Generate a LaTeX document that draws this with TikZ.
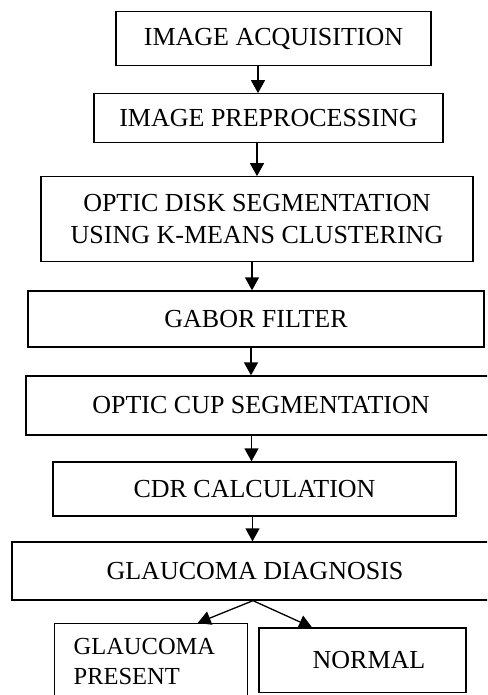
\documentclass[tikz,border=0pt]{standalone}
\usepackage{fontspec}
\setmainfont{Liberation Serif}
\usetikzlibrary{arrows.meta}

\begin{document}
\begin{tikzpicture}[x=1pt, y=-1pt,
	box/.style={draw, line width=1.3pt, inner sep=0pt, align=center, font=\fontsize{26}{32}\selectfont},
	arr/.style={line width=1.3pt, -{Triangle[length=13pt,width=14pt]}}]
	\useasboundingbox (0,0) rectangle (487,695);
	\clip (0,0) rectangle (487,695);

	\node[box, minimum width=315pt, minimum height=54pt] (acq) at (273.5,38.7){IMAGE ACQUISITION};
	\node[box, minimum width=349pt, minimum height=49pt] (pre) at (268.5,118.3){IMAGE PREPROCESSING};
	\node[box, minimum width=432pt, minimum height=85pt] (disk) at (257,219.3){OPTIC DISK SEGMENTATION\\USING K-MEANS CLUSTERING};
	\node[box, minimum width=456pt, minimum height=56pt] (gabor) at (256,319){GABOR FILTER};
	\node[box, minimum width=470pt, minimum height=59pt] (cup) at (261,405.5){OPTIC CUP SEGMENTATION};
	\node[box, minimum width=403pt, minimum height=54pt] (cdr) at (254.5,489){CDR CALCULATION};
	\node[box, minimum width=486pt, minimum height=58pt] (diag) at (255,571){GLAUCOMA DIAGNOSIS};
	\node[box, anchor=north west, align=left, text width=155pt, inner xsep=19pt, inner ysep=15pt,
		font=\fontsize{24.5}{30}\selectfont] (yes) at (54,623){GLAUCOMA\\PRESENT};
	\node[box, minimum width=207pt, minimum height=64.7pt] (no) at (362.5,660.4){\hspace{13pt}NORMAL};

	\draw[arr] ([xshift=-15.5pt]acq.south) -- ([xshift=-15.5pt]acq.south |- pre.north);
	\draw[arr] ([xshift=-11.5pt]pre.south) -- ([xshift=-11.5pt]pre.south |- disk.north);
	\draw[arr] ([xshift=-5pt]disk.south) -- ([xshift=-5pt]disk.south |- gabor.north);
	\draw[arr] ([xshift=-5pt]gabor.south) -- ([xshift=-5pt]gabor.south |- cup.north);
	\draw[arr] ([xshift=-9.5pt]cup.south) -- ([xshift=-9.5pt]cup.south |- cdr.north);
	\draw[arr] ([xshift=-2pt]cdr.south) -- ([xshift=-2pt]cdr.south |- diag.north);
	\draw[arr] ([xshift=-2pt]diag.south) -- ([xshift=46.5pt]yes.north);
	\draw[arr] ([xshift=-2pt]diag.south) -- ([xshift=-50.5pt]no.north);
\end{tikzpicture}
\end{document}
